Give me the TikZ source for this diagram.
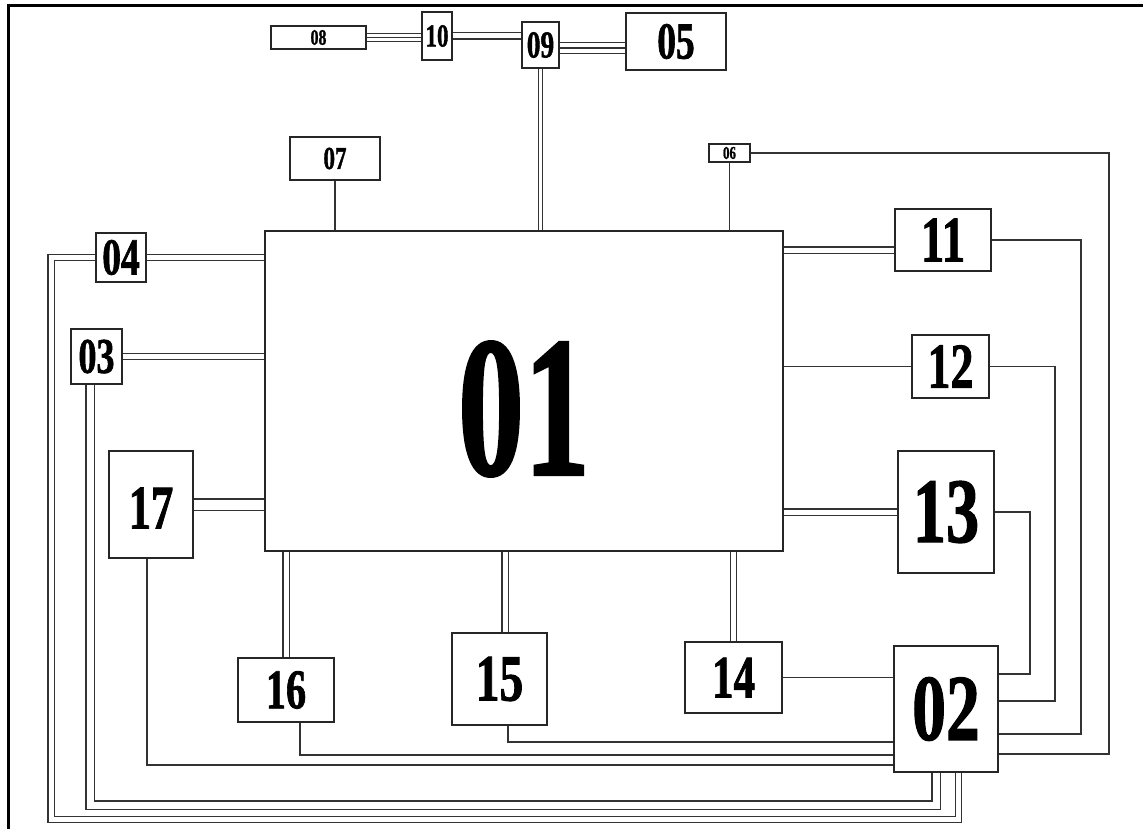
\documentclass[tikz,border=0pt]{standalone}
\usepackage{fontspec}
\setmainfont{Liberation Serif}[BoldFeatures={FakeBold=1.5}]
\usepackage{graphicx}
\newcommand{\narrow}[1]{\scalebox{0.72}[1]{#1}}

\begin{document}
\begin{tikzpicture}[
  x=0.5pt, y=-0.5pt,
  blk/.style={draw=black!85, line width=0.6pt, fill=white, inner sep=0pt, align=center},
  sz/.style={font=\bfseries\fontsize{#1}{#1}\selectfont},
  wire/.style={draw=black!80, line width=0.6pt},
  dbl/.style={draw=black!80, line width=0.6pt, double=white, double distance=2.5pt},
  frame/.style={draw=black, line width=1.5pt},
]
\useasboundingbox (0,0) rectangle (1143,829);
\draw[frame] (1143,6) -- (8,6) -- (8,829);

\node[blk, line width=1pt, minimum width=259pt, minimum height=160pt,
  label={[sz=100, yshift=-9pt]center:\scalebox{0.66}[1]{01}}] (n01) at (524,391) {};
\node[blk, sz=47, minimum width=52pt, minimum height=63pt] (n02) at (946,709) {\narrow{02}};
\node[blk, sz=25, minimum width=25.5pt, minimum height=27.5pt] (n03) at (96.5,356.5) {\narrow{03}};
\node[blk, sz=26, minimum width=25pt, minimum height=24.5pt] (n04) at (121,257.5) {\narrow{04}};
\node[blk, sz=26, minimum width=50pt, minimum height=28.5pt] (n05) at (676,41.5) {\narrow{05}};
\node[blk, sz=9, minimum width=20.5pt, minimum height=9pt] (n06) at (729.5,153) {\narrow{06}};
\node[blk, sz=16, minimum width=45pt, minimum height=21.5pt] (n07) at (335,158.5) {\narrow{07}};
\node[blk, sz=11, minimum width=47.5pt, minimum height=11.5pt] (n08) at (318.5,37.5) {\narrow{08}};
\node[blk, sz=19, minimum width=18.5pt, minimum height=23pt] (n09) at (540.5,45) {\narrow{09}};
\node[blk, sz=16, minimum width=15pt, minimum height=24pt] (n10) at (437,36) {\narrow{10}};
\node[blk, sz=32.5, minimum width=48pt, minimum height=31pt] (n11) at (943,240) {\narrow{11}};
\node[blk, sz=32, minimum width=38.5pt, minimum height=31.5pt] (n12) at (950.5,366.5) {\narrow{12}};
\node[blk, sz=46, minimum width=48pt, minimum height=61pt] (n13) at (946,512) {\narrow{13}};
\node[blk, sz=30, minimum width=48.5pt, minimum height=35.5pt] (n14) at (733.5,677.5) {\narrow{14}};
\node[blk, sz=33, minimum width=47.5pt, minimum height=46pt] (n15) at (499.5,679) {\narrow{15}};
\node[blk, sz=28, minimum width=48pt, minimum height=32pt] (n16) at (286,690) {\narrow{16}};
\node[blk, sz=31, minimum width=42pt, minimum height=53.5pt, text height=24pt, text depth=0pt] (n17) at (151,504.5) {\narrow{17}};

\draw[dbl, double distance=3.4pt] (n08.east) -- (n08.east -| n10.west);
\draw[wire] (n08.east) -- (n08.east -| n10.west);
\draw[dbl] (n10.east) -- (n10.east -| n09.west);
\draw[dbl, double distance=4.7pt] (n09.east |- 0,48) -- (n05.west |- 0,48);
\draw[wire] (n09.east |- 0,48) -- (n05.west |- 0,48);
\draw[dbl, double distance=1.5pt] (n09.south) -- (n09.south |- n01.north);
\draw[wire] (n07.south) -- (n07.south |- n01.north);
\draw[wire] (n06.south) -- (n06.south |- n01.north);

\draw[dbl] (n04.east) -- (n04.east -| n01.west);
\draw[dbl] (n03.east) -- (n03.east -| n01.west);
\draw[dbl, double distance=5pt] (n17.east) -- (n17.east -| n01.west);
\draw[dbl] (n01.east |- 0,250) -- (n11.west |- 0,250);
\draw[wire] (n12.west) -- (n12.west -| n01.east);
\draw[dbl] (n13.west) -- (n13.west -| n01.east);
\draw[dbl] (n14.north) -- (n14.north |- n01.south);
\draw[dbl] (505,0 |- n15.north) -- (505,0 |- n01.south);
\draw[dbl] (n16.north) -- (n16.north |- n01.south);

\draw[wire] (n14.east) -- (n14.east -| n02.west);
\draw[wire] (508,0 |- n15.south) |- (n02.west |- 0,742);
\draw[wire] (300,0 |- n16.south) |- (n02.west |- 0,755);
\draw[wire] (147,0 |- n17.south) |- (n02.west |- 0,765);
\draw[dbl, double distance=3.5pt] (90,0 |- n03.south) -- (90,805) -| (936,0 |- n02.south);
\draw[dbl] (n04.west) -| (51,819.5) -| (958.5,0 |- n02.south);

\draw[wire] (n13.east) -| (1030,674) -- (n02.east |- 0,674);
\draw[wire] (n12.east) -| (1055,701) -- (n02.east |- 0,701);
\draw[wire] (n11.east) -| (1081,734) -- (n02.east |- 0,734);
\draw[wire] (n06.east) -| (1109,754) -- (n02.east |- 0,754);
\end{tikzpicture}
\end{document}
